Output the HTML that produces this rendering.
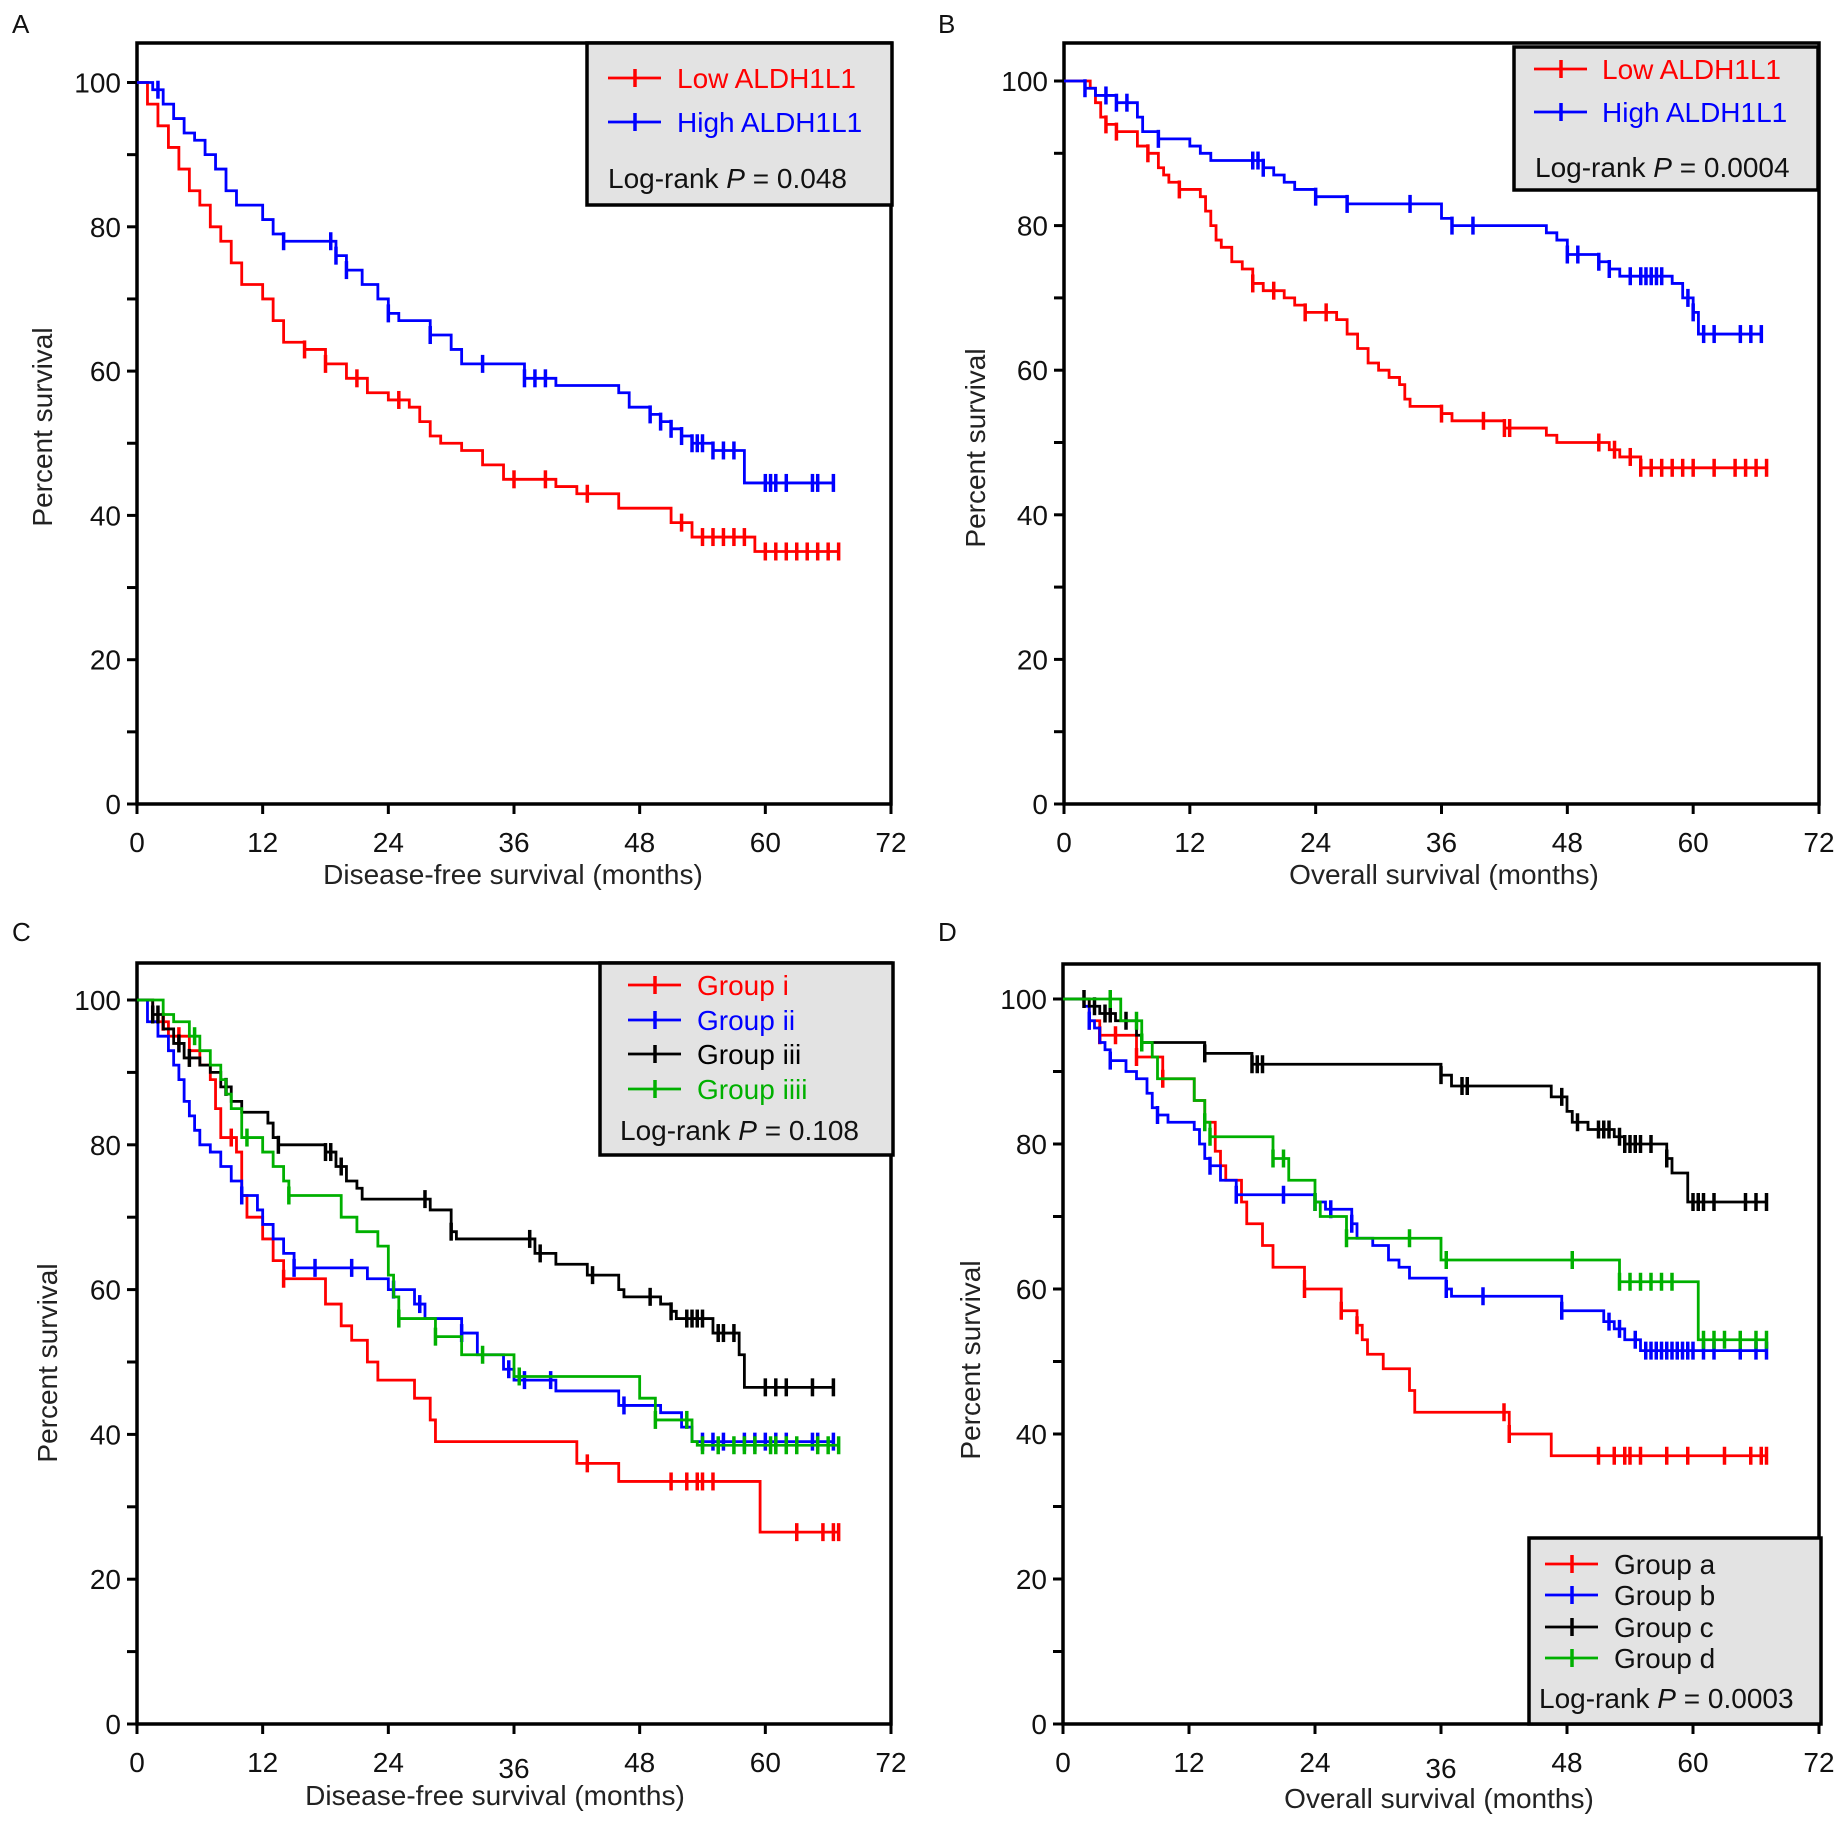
<!DOCTYPE html>
<html><head><meta charset="utf-8"><style>
html,body{margin:0;padding:0;background:#fff}
svg{display:block;font-family:"Liberation Sans",Arial,sans-serif}
</style></head><body>
<svg id="fig" width="1841" height="1824" viewBox="0 0 1841 1824" xmlns="http://www.w3.org/2000/svg"></svg>
<script>
// ---------- data ----------
const xTicks=[0,12,24,36,48,60,72];
const yTicks=[0,20,40,60,80,100];
// Panel A (DFS)
const aLowSteps=[[1,97],[2,94],[3,91],[4,88],[5,85],[6,83],[7,80],[8,78],[9,75],[10,72],[12,70],[13,67],[14,64],[16,63],[18,61],[20,59],[22,57],[24,56],[26,55],[27,53],[28,51],[29,50],[31,49],[33,47],[35,45],[40,44],[42,43],[46,41],[51,39],[53,37],[59,35]];
const aLowCens=[16,18,21,25,36,39,43,52,54,55,56,57,58,60,61,62,63,64,65,66,67];
const aHighSteps=[[1.5,99],[2.5,97],[3.5,95],[4.5,93],[5.5,92],[6.5,90],[7.5,88],[8.5,85],[9.5,83],[12,81],[13,79],[14,78],[19,76],[20,74],[21.5,72],[23,70],[24,68],[25,67],[28,65],[30,63],[31,61],[37,59],[40,58],[46,57],[47,55],[49,54],[50,53],[51,52],[52,51],[53,50],[55,49],[58,44.5]];
const aHighCens=[2,14,18.5,19,20,24,28,33,37,38,39,49,50,51,52,53,53.5,54,55,56,57,60,60.5,61,62,64.5,65,66.5];
// Panel B (OS)
const bLowSteps=[[2.5,99],[3,97],[3.5,95],[4,94],[5,93],[7,91],[8,90],[9,88],[9.5,87],[10,86],[11,85],[13,84],[13.5,82],[14,80],[14.5,78],[15,77],[16,75],[17,74],[18,72],[19,71],[21,70],[22,69],[23,68],[26,67],[27,65],[28,63],[29,61],[30,60],[31,59],[32,58],[32.5,56],[33,55],[36,54],[37,53],[42,52],[46,51],[47,50],[52,49],[53,48],[55,46.5]];
const bLowCens=[4,5,8,11,18,20,23,25,36,40,42,42.5,51,52.5,54,55,56,57,58,59,60,62,64,65,66,67];
const bHighSteps=[[2,99],[3,98],[5,97],[7,95],[7.5,93],[9,92],[12,91],[13,90],[14,89],[19,88],[20,87],[21,86],[22,85],[24,84],[27,83],[36,81],[37,80],[46,79],[47,78],[48,76],[51,75],[52,74],[53,73],[58,72],[59,70],[60,68],[60.5,65]];
const bHighCens=[2,4,5,6,9,18,18.5,19,24,27,33,37,39,48,49,51,52,54,55,55.5,56,56.5,57,59.5,60,61,62,64.5,65.5,66.5];
// Panel C (DFS groups)
const cISteps=[[1.5,97],[3,95],[5,93],[6,91],[7,89],[7.5,85],[8,81],[9.5,79],[10,73],[10.5,70],[12,67],[13,64],[14,61.5],[18,58],[19.5,55],[20.5,53],[22,50],[23,47.5],[26.5,45],[28,42],[28.5,39],[42,36],[46,33.5],[59.5,26.5]];
const cICens=[2.5,4,9,14,43,51,52.5,53.5,54,55,63,65.5,66.5,67];
const cIISteps=[[1,97],[2,95],[3,93],[3.5,91],[4,89],[4.5,86],[5,84],[5.5,82],[6,80],[7,79],[8,77],[9,75],[10,73],[11.5,71],[12,69],[13,67],[14,65],[15,63],[22,61.5],[24,60],[26.5,58],[27.5,56],[31,54],[32.5,51],[35,49],[36,47.5],[40,46],[46,44],[50,43],[52,41],[53,39]];
const cIICens=[10,15,17,20.5,24.5,27,31,35.5,37,39.5,46.5,54,55,56,58,59,60,61,62,64.5,65,66.5];
const cIIISteps=[[1.5,98],[2.5,96],[3.5,94],[4.5,92],[6,91],[7,90],[8,88],[9,86],[10,84.5],[12.5,83],[13,81],[13.5,80],[18,79],[19,77],[20,75],[21,74],[21.5,72.5],[28,71],[30,68],[30.5,67],[38,65],[40,63.5],[43,62],[46,60],[46.5,59],[50,58],[51,57],[51.5,56],[55,54],[57.5,51],[58,46.5]];
const cIIICens=[1.5,2,4,5,8.5,13.5,18,18.5,19.5,27.5,30,37.5,38.5,43.5,49,51,52.5,53,53.5,54,55.5,56,57,60,61,62,64.5,66.5];
const cIVSteps=[[2.5,98],[3.5,97],[5,95],[6,93],[7,91],[8,89],[8.5,87],[9,85],[10,81],[12,79],[13,77],[14,75],[14.5,73],[19.5,70],[21,68],[23,66],[24,62],[24.5,59],[25,56],[28.5,53.5],[31,51],[36,48],[48,45],[49.5,42],[53,39],[53.5,38.5]];
const cIVCens=[5.5,10.5,14.5,25,28.5,33,36.5,49.5,52.5,54,55.5,57,58,59,60.5,61,62,63,65,66,67];
// Panel D (OS groups)
const dASteps=[[2.5,97],[3.5,95],[7,92],[9.5,89],[12.5,86],[13.5,83],[14.5,79],[15,77],[15.5,75],[17,72],[17.5,69],[19,66],[20,63],[23,60],[26.5,57],[28,55],[28.5,53],[29,51],[30.5,49],[33,46],[33.5,43],[42.5,40],[46.5,37]];
const dACens=[2.5,3.5,5,7,9.5,23,26.5,28,42,42.5,51,52.5,53.5,54,55,57.5,59.5,63,65.5,66.5,67];
const dBSteps=[[2,99],[2.5,97],[3,96],[3.5,94],[4,93],[4.5,91.5],[6,90],[7,89],[8,87],[8.5,85],[9,84],[10,83],[12.5,82],[13,80],[13.5,78],[14,77],[15,75],[16.5,73],[24,72],[25,71],[27.5,69],[28,67],[29.5,66],[31,64],[32,63],[33,61.5],[36.5,60],[37,59],[47.5,57],[51.5,55.5],[52.5,54.5],[53.5,53],[55,51.5]];
const dBCens=[2.5,4.5,9,14,16.5,21,24,25.5,27.5,36.5,40,47.5,52,53,54.5,55.5,56,56.5,57,57.5,58,58.5,59,59.5,60,61,62,64.5,66,67];
const dCSteps=[[2.5,99],[3.5,98],[5,97],[7,95],[7.5,94],[13.5,92.5],[18,91],[36,89.5],[37,88],[46.5,86.5],[48,84.5],[48.5,83],[50,82],[52.5,81],[53.5,80],[57.5,78],[58,76],[59.5,72]];
const dCCens=[2,3,4,4.5,6,13.5,18,18.5,19,36,38,38.5,47.5,49,51,51.5,52,53,53.5,54,54.5,55,56,57.5,60,60.5,61,62,65,66,67];
const dDSteps=[[5.5,97],[7.5,94],[8.5,92],[9,89],[12.5,86],[13.5,83],[14,81],[20,78],[21.5,75],[24,72],[24.5,70],[27,67],[36,64],[53,61],[60.5,53]];
const dDCens=[4.5,7,7.5,13.5,14,20,21,24,27,33,36.5,48.5,53,54,55,56,57,58,61,62,63,64.5,66,67];

// ---------- drawing ----------
const NS="http://www.w3.org/2000/svg";
const svg=document.getElementById('fig');
function mk(tag,attrs,parent){const e=document.createElementNS(NS,tag);for(const k in attrs)e.setAttribute(k,attrs[k]);(parent||svg).appendChild(e);return e;}
function txt(s,attrs,parent){const e=mk('text',attrs,parent);e.textContent=s;return e;}

function survAt(steps,t){let s=100;for(const [tt,v] of steps){if(tt<=t)s=v;}return s;}

function panel(cfg){
  const g=mk('g',{});
  
  
  const X=t=>cfg.x0+(cfg.x1-cfg.x0)*t/72;
  const Y=v=>cfg.y0+(cfg.y100-cfg.y0)*v/100;
  const lt=txt(cfg.letter,{x:cfg.lx,y:cfg.ly,'font-size':26,fill:'#111'},g);
  
  
  const fr=mk('rect',{x:cfg.x0,y:cfg.top,width:cfg.x1-cfg.x0,height:cfg.y0-cfg.top,fill:'none',stroke:'#000','stroke-width':3.5},g);
  
  
  xTicks.forEach((t,i)=>{
    mk('line',{x1:X(t),x2:X(t),y1:cfg.y0,y2:cfg.y0+10,stroke:'#000','stroke-width':3},g);
    const l=txt(String(t),{x:X(t),y:cfg.y0+48+((cfg.drop36&&t===36)?6:0),'text-anchor':'middle','font-size':28,fill:'#111'},g);
    
    
  });
  for(let v=0;v<=100;v+=10){mk('line',{x1:cfg.x0-10,x2:cfg.x0,y1:Y(v),y2:Y(v),stroke:'#000','stroke-width':3},g);}
  yTicks.forEach(v=>{
    const l=txt(String(v),{x:cfg.x0-16,y:Y(v)+10,'text-anchor':'end','font-size':28,fill:'#111'},g);
    
    
  });
  const xt=txt(cfg.xtitle,{x:cfg.xtx,y:cfg.xty,'text-anchor':'middle','font-size':28,fill:'#222'},g);
  
  
  const yt=txt('Percent survival',{x:0,y:0,'text-anchor':'middle','font-size':28,fill:'#222',transform:`translate(${cfg.ytx},${cfg.yty}) rotate(-90)`},g);
  
  
  cfg.series.forEach(s=>{
    let d=`M${X(0)},${Y(100)}`;
    s.steps.forEach(([t,v])=>{d+=`H${X(t)}V${Y(v)}`;});
    const last=Math.max(...s.cens,s.steps[s.steps.length-1][0]);
    d+=`H${X(last)}`;
    const p=mk('path',{d:d,fill:'none',stroke:s.color,'stroke-width':2.8},g);
    
    
    s.cens.forEach(t=>{
      const yy=Y(survAt(s.steps,t));
      const c=mk('line',{x1:X(t),x2:X(t),y1:yy-9,y2:yy+9,stroke:s.color,'stroke-width':3.5},g);
      
      
    });
  });
  const L=cfg.legend;
  const lg=mk('g',{},g);
  
  
  mk('rect',{x:L.x,y:L.y,width:L.w,height:L.h,fill:'#e3e3e3',stroke:'#000','stroke-width':3.5},lg);
  cfg.series.forEach((s,i)=>{
    const yy=L.ey[i];
    const e=mk('g',{},lg);
    
    
    mk('line',{x1:L.lx,x2:L.lx+53,y1:yy,y2:yy,stroke:s.color,'stroke-width':2.8},e);
    mk('line',{x1:L.lx+27,x2:L.lx+27,y1:yy-9,y2:yy+9,stroke:s.color,'stroke-width':3.5},e);
    txt(s.label,{x:L.tx,y:yy+10,'font-size':L.fs,fill:L.colorText?s.color:'#111'},e);
  });
  const pl=txt('',{x:L.px,y:L.py,'font-size':L.fs,fill:'#111'},lg);
  
  
  const t1=document.createElementNS(NS,'tspan');t1.textContent='Log-rank ';pl.appendChild(t1);
  const t2=document.createElementNS(NS,'tspan');t2.setAttribute('font-style','italic');t2.textContent='P';pl.appendChild(t2);
  const t3=document.createElementNS(NS,'tspan');t3.textContent=' = '+L.p;pl.appendChild(t3);
}

panel({name:'panel-a',letter:'A',lx:12,ly:33,x0:137,x1:891,y0:804,y100:82.5,top:43,
  xtitle:'Disease-free survival (months)',xtx:513,xty:884,ytx:52,yty:427,
  series:[{id:'low-aldh1l1',label:'Low ALDH1L1',color:'#ff0000',steps:aLowSteps,cens:aLowCens},
          {id:'high-aldh1l1',label:'High ALDH1L1',color:'#0000ff',steps:aHighSteps,cens:aHighCens}],
  legend:{x:587,y:43,w:305,h:162,ey:[78,122],lx:608,tx:677,px:608,py:188,fs:28,p:'0.048',colorText:true}});
panel({name:'panel-b',letter:'B',lx:938,ly:33,x0:1064,x1:1819,y0:804,y100:81,top:43,
  xtitle:'Overall survival (months)',xtx:1444,xty:884,ytx:985,yty:448,
  series:[{id:'low-aldh1l1',label:'Low ALDH1L1',color:'#ff0000',steps:bLowSteps,cens:bLowCens},
          {id:'high-aldh1l1',label:'High ALDH1L1',color:'#0000ff',steps:bHighSteps,cens:bHighCens}],
  legend:{x:1514,y:47,w:304,h:143,ey:[69,112],lx:1534,tx:1602,px:1535,py:177,fs:28,p:'0.0004',colorText:true}});
panel({name:'panel-c',letter:'C',lx:12,ly:941,x0:137,x1:891,y0:1724,y100:1000,top:963,drop36:true,
  xtitle:'Disease-free survival (months)',xtx:495,xty:1805,ytx:57,yty:1363,
  series:[{id:'group-i',label:'Group i',color:'#ff0000',steps:cISteps,cens:cICens},
          {id:'group-ii',label:'Group ii',color:'#0000ff',steps:cIISteps,cens:cIICens},
          {id:'group-iii',label:'Group iii',color:'#000000',steps:cIIISteps,cens:cIIICens},
          {id:'group-iiii',label:'Group iiii',color:'#00b000',steps:cIVSteps,cens:cIVCens}],
  legend:{x:600,y:963,w:293,h:192,ey:[985,1020,1054,1089],lx:628,tx:697,px:620,py:1140,fs:28,p:'0.108',colorText:true}});
panel({name:'panel-d',letter:'D',lx:938,ly:941,x0:1063,x1:1819,y0:1724,y100:999,top:964,drop36:true,
  xtitle:'Overall survival (months)',xtx:1439,xty:1808,ytx:980,yty:1360,
  series:[{id:'group-a',label:'Group a',color:'#ff0000',steps:dASteps,cens:dACens},
          {id:'group-b',label:'Group b',color:'#0000ff',steps:dBSteps,cens:dBCens},
          {id:'group-c',label:'Group c',color:'#000000',steps:dCSteps,cens:dCCens},
          {id:'group-d',label:'Group d',color:'#00b000',steps:dDSteps,cens:dDCens}],
  legend:{x:1529,y:1538,w:292,h:186,ey:[1564,1595,1627,1658],lx:1545,tx:1614,px:1539,py:1708,fs:28,p:'0.0003',colorText:false}});
</script>
</body></html>
